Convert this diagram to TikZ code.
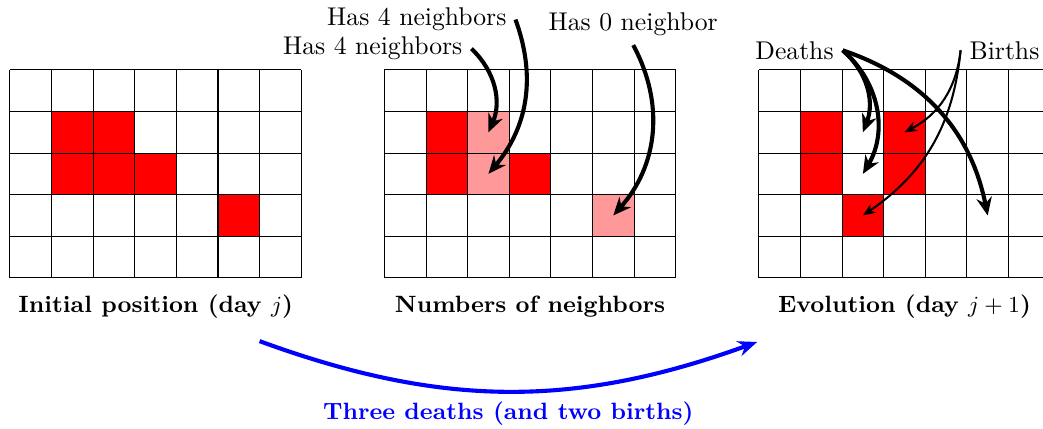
\documentclass[tikz,border=0pt]{standalone}
\usepackage{tikz}
\usetikzlibrary{positioning,arrows.meta,calc}
\tikzset{
  alive/.style={fill=red},
  counted/.style={fill=red!40},
  board/.style={draw=black, line width=0.4pt, step=1},
  pointer/.style={line width=1.6pt, draw=black, -{Stealth[length=7pt,width=6pt]}},
  thinpointer/.style={line width=0.8pt, draw=black, -{Stealth[length=5pt,width=4pt]}},
  evolve/.style={line width=1.6pt, draw=blue, -{Stealth[length=7.5pt,width=6pt]}},
  caption/.style={font=\fontsize{9.2}{11}\selectfont\bfseries, anchor=base}
}

\begin{document}
\begin{tikzpicture}[x=0.57cm, y=0.57cm]
    \useasboundingbox (-0.24,-3.61) rectangle (24.83,6.68);

    % day j
    \fill[alive] (1,3) rectangle ++(1,1);
    \fill[alive] (2,3) rectangle ++(1,1);
    \fill[alive] (1,2) rectangle ++(1,1);
    \fill[alive] (2,2) rectangle ++(1,1);
    \fill[alive] (3,2) rectangle ++(1,1);
    \fill[alive] (5,1) rectangle ++(1,1);
    \draw[board] (0,0) grid (7,5);
    \node[caption] (capj) at (3.5,-0.84) {Initial position (day $j$)};

    % neighbors
    \fill[alive]   (10,3) rectangle ++(1,1);
    \fill[counted] (11,3) rectangle ++(1,1);
    \fill[alive]   (10,2) rectangle ++(1,1);
    \fill[counted] (11,2) rectangle ++(1,1);
    \fill[alive]   (12,2) rectangle ++(1,1);
    \fill[counted] (14,1) rectangle ++(1,1);
    \draw[board] (9,0) grid (16,5);
    \node[caption] (capn) at (12.5,-0.84) {Numbers of neighbors};

    \coordinate (n23) at (11.5,3.5);
    \coordinate (n22) at (11.5,2.5);
    \coordinate (n51) at (14.5,1.5);

    \node[anchor=base east] (has4a) at (12.15,6.06) {Has 4 neighbors};
    \node[anchor=base east] (has4b) at (11.09,5.36) {Has 4 neighbors};
    \node[anchor=base west] (has0) at (12.73,5.94) {Has 0 neighbor};

    % day j+1
    \fill[alive] (19,3) rectangle ++(1,1);
    \fill[alive] (21,3) rectangle ++(1,1);
    \fill[alive] (19,2) rectangle ++(1,1);
    \fill[alive] (21,2) rectangle ++(1,1);
    \fill[alive] (20,1) rectangle ++(1,1);
    \draw[board] (18,0) grid (25,5);
    \node[caption] (capk) at (21.5,-0.84) {Evolution (day $j+1$)};

    \coordinate (e23) at (20.5,3.5);
    \coordinate (e22) at (20.5,2.5);
    \coordinate (e51) at (23.5,1.5);
    \coordinate (e33) at (21.5,3.5);
    \coordinate (e21) at (20.5,1.5);

    \node[anchor=base west] (deaths) at (17.7,5.26) {Deaths};
    \node[anchor=base east] (births) at (24.96,5.26) {Births};

    \draw[pointer] (has4b.east) to[bend left=35] (n23);
    \draw[pointer] (has4a.east) to[bend left=30] (n22);
    \draw[pointer] (has0.south) to[bend left=35] (n51);

    \draw[pointer] (deaths.east) to[bend left=35] (e23);
    \draw[pointer] (deaths.east) to[bend left=40] (e22);
    \draw[pointer] (deaths.east) to[bend left=30] (e51);
    \draw[thinpointer] (births.west) to[bend left=28] (e33);
    \draw[thinpointer] (births.west) to[bend left=25] (e21);

    % one day later
    \coordinate (from) at (6.0,-1.52);
    \coordinate (to) at (17.96,-1.54);
    \draw[evolve] (from) to[bend right=20]
      node[below, text=blue, font=\fontsize{9.2}{11}\selectfont\bfseries] (capstep) {Three deaths (and two births)} (to);
\end{tikzpicture}
\end{document}
